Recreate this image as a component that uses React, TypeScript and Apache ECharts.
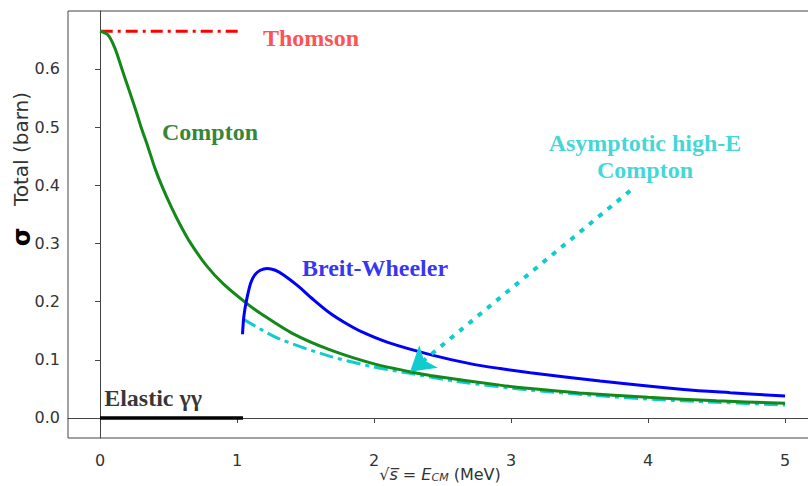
import React, { useEffect, useRef } from "react";
import * as echarts from "echarts";

// Compton total cross-section (green)
const comptonX = [0, 0.06, 0.11, 0.16, 0.21, 0.26, 0.3, 0.35, 0.4, 0.45, 0.52, 0.58, 0.66, 0.78, 0.9, 1.07, 1.17, 1.4, 1.68, 2.0, 2.263, 2.41, 2.92, 3.14, 3.5, 4.0, 4.5, 5.0];
const comptonY = [0.665, 0.658, 0.635, 0.6, 0.565, 0.53, 0.5, 0.466, 0.43, 0.4, 0.363, 0.3345, 0.301, 0.261, 0.2305, 0.197, 0.18, 0.146, 0.117, 0.093, 0.0796, 0.0732, 0.0565, 0.0505, 0.043, 0.0355, 0.0296, 0.0252];

// Breit-Wheeler (blue)
const bwX = [1.04, 1.05, 1.07, 1.1, 1.13, 1.17, 1.22, 1.28, 1.34, 1.44, 1.55, 1.68, 1.8, 1.92, 2.1, 2.41, 2.7, 2.92, 3.14, 3.65, 4.26, 4.6, 5.0];
const bwY = [0.144, 0.175, 0.203, 0.232, 0.246, 0.254, 0.257, 0.254, 0.246, 0.228, 0.205, 0.18, 0.162, 0.147, 0.13, 0.109, 0.0935, 0.085, 0.0778, 0.0635, 0.049, 0.0435, 0.0378];

// Asymptotic high-E Compton (cyan dash-dot)
const asymX = [1.046, 1.3, 1.68, 2.0, 2.263, 2.6, 3.14, 3.6, 4.0, 4.5, 5.0];
const asymY = [0.17, 0.137, 0.106, 0.0876, 0.0768, 0.063, 0.048, 0.039, 0.0325, 0.027, 0.0223];

// Thomson limit (red dash-dot)
const thomsonX = [0.005, 1.02];
const thomsonY = [0.665, 0.665];

// Elastic gamma-gamma (black)
const elasticX = [0, 1.044];
const elasticY = [0, 0];

// Arrow (dotted cyan) from label to curve
const arrowFrom = [3.869, 0.3906];
const arrowTo = [2.263, 0.0796];

// Tick values
const xTicks = [0, 1, 2, 3, 4, 5];
const yTicks = [0, 0.1, 0.2, 0.3, 0.4, 0.5, 0.6];

// Annotation labels (data coords)
const labelTexts = ["Thomson", "Compton", "Breit-Wheeler", "Asymptotic high-E\nCompton", "Elastic γγ"];
const labelX = [1.54, 0.803, 2.007, 3.978, 0.387];
const labelY = [0.653, 0.492, 0.258, 0.45, 0.034];
const labelColors = ["#ff2222", "#006400", "#0000ee", "#11cccc", "#000000"];

const zip = (xs: number[], ys: number[]) => xs.map((x, i) => [x, ys[i]]);

export default function App() {
  const ref = useRef<HTMLDivElement>(null);
  useEffect(() => {
    document.body.style.margin = "0";
    const chart = echarts.init(ref.current!, null, { renderer: "svg" });
    const axisColor = "#444";
    const tickFont = { fontFamily: "DejaVu Sans", fontSize: 16, color: "#333" };
    chart.setOption({
      animation: false,
      backgroundColor: "#fff",
      grid: {
        left: 68,
        top: 11,
        width: 742,
        height: 427,
        show: true,
        borderColor: axisColor,
        borderWidth: 1,
        containLabel: false,
        outerBoundsMode: "none",
      },
      xAxis: {
        type: "value",
        min: -0.2336,
        max: 5.182,
        splitLine: { show: false },
        axisLine: { show: true, lineStyle: { color: axisColor } },
        axisTick: { show: true, customValues: xTicks, length: 5, lineStyle: { color: axisColor } },
        axisLabel: { ...tickFont, customValues: xTicks, margin: 14, formatter: (v: number) => String(v) },
      },
      yAxis: {
        type: "value",
        min: -0.0344,
        max: 0.6997,
        splitLine: { show: false },
        axisLine: { show: true, lineStyle: { color: axisColor } },
        axisTick: { show: true, customValues: yTicks, length: 5, lineStyle: { color: axisColor } },
        axisLabel: { ...tickFont, customValues: yTicks, margin: 8, formatter: (v: number) => v.toFixed(1) },
      },
      graphic: [
        {
          type: "text",
          x: 21,
          y: 149,
          rotation: Math.PI / 2,
          style: { text: "Total (barn)", fontFamily: "DejaVu Sans", fontSize: 20, fill: "#333", align: "center", verticalAlign: "middle" },
        },
        {
          type: "text",
          x: 22,
          y: 237,
          rotation: Math.PI / 2,
          style: { text: "σ", fontFamily: "DejaVu Sans", fontWeight: "bold", fontSize: 24, fill: "#000", align: "center", verticalAlign: "middle" },
        },
        {
          type: "text",
          x: 440,
          y: 474,
          style: {
            text: "{r|√}{i|s̅} = {i|E}{sub|CM} (MeV)",
            fontFamily: "DejaVu Sans",
            fontSize: 16,
            fill: "#333",
            align: "center",
            verticalAlign: "middle",
            rich: {
              r: { fontFamily: "DejaVu Sans", fontSize: 16, lineHeight: 18, fill: "#333" },
              i: { fontFamily: "DejaVu Sans", fontStyle: "italic", fontSize: 16, lineHeight: 18, fill: "#333" },
              sub: { fontFamily: "DejaVu Sans", fontStyle: "italic", fontSize: 11, lineHeight: 18, fill: "#333", verticalAlign: "bottom" },
            },
          },
        },
      ],
      series: [
        {
          name: "Thomson",
          type: "line",
          data: zip(thomsonX, thomsonY),
          symbol: "none",
          lineStyle: { color: "#ff0000", width: 3, type: [12, 5, 3, 5] },
        },
        {
          name: "Elastic",
          type: "line",
          data: zip(elasticX, elasticY),
          symbol: "none",
          lineStyle: { color: "#000", width: 3.5 },
        },
        {
          name: "Compton",
          type: "line",
          data: zip(comptonX, comptonY),
          symbol: "none",
          smooth: 0.3,
          lineStyle: { color: "#14891a", width: 3 },
          z: 3,
        },
        {
          name: "Asymptotic",
          type: "line",
          data: zip(asymX, asymY),
          symbol: "none",
          smooth: 0.3,
          lineStyle: { color: "#11cccc", width: 3, type: [14, 5, 4, 5] },
          z: 2,
          markLine: {
            silent: true,
            symbol: ["none", "arrow"],
            symbolSize: [22, 24],
            label: { show: false },
            lineStyle: { color: "#11cccc", width: 4, type: [5, 7] },
            data: [[{ coord: arrowFrom }, { coord: arrowTo }]],
          },
        },
        {
          name: "Breit-Wheeler",
          type: "line",
          data: zip(bwX, bwY),
          symbol: "none",
          smooth: 0.3,
          lineStyle: { color: "#0000ff", width: 3 },
          z: 4,
        },
        {
          name: "labels",
          type: "scatter",
          symbolSize: 0,
          silent: true,
          z: 10,
          data: labelTexts.map((t, i) => ({
            value: [labelX[i], labelY[i]],
            label: {
              show: true,
              position: "inside",
              formatter: t,
              fontFamily: "Liberation Serif",
              fontWeight: "bold",
              fontSize: 24,
              lineHeight: 27,
              align: "center",
              verticalAlign: "middle",
              color: labelColors[i],
            },
          })),
        },
      ],
    });
    return () => chart.dispose();
  }, []);
  return <div ref={ref} style={{ width: 808, height: 486 }} />;
}
